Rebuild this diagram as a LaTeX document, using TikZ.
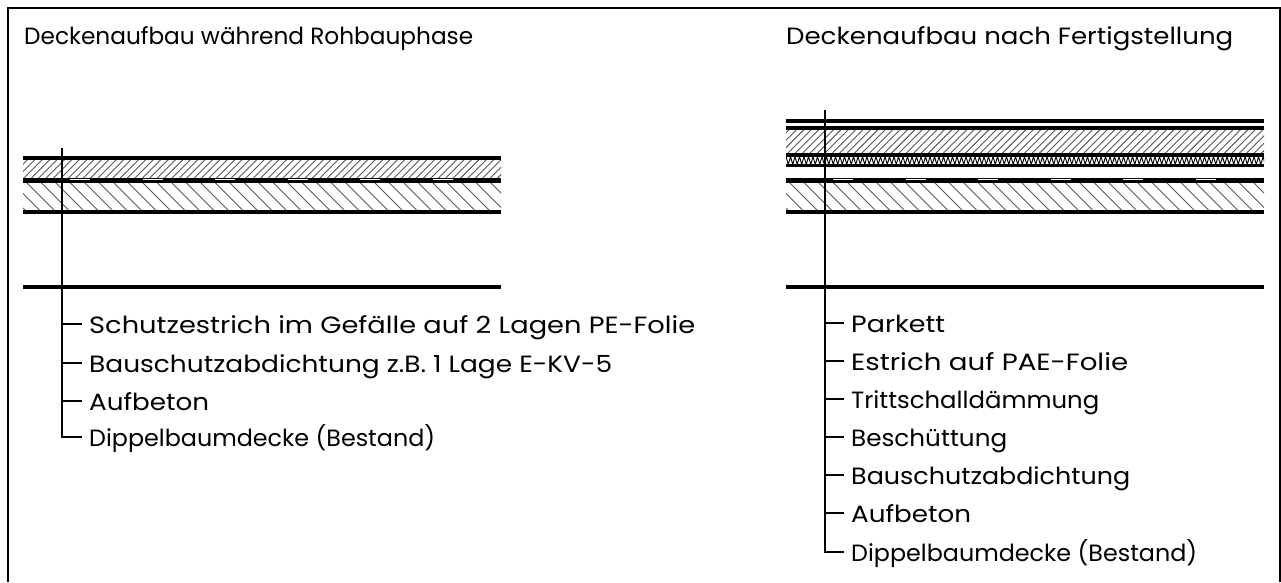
\documentclass[tikz,border=0pt]{standalone}
\usepackage{fontspec}
\setmainfont{Poppins}
\usepackage{graphicx}
\newcommand{\ft}[2]{\resizebox{#1pt}{1.12\height}{#2}}
\tikzset{x=1pt,y=-1pt,
 frameline/.style={line width=2pt,black},
 layer/.style={line width=3.2pt,black},
 layerthick/.style={line width=5pt,black},
 hatch/.style={line width=0.9pt,black!65},
 lead/.style={line width=2pt,black},
 lbl/.style={font=\fontsize{21}{21}\selectfont,anchor=west,inner xsep=7pt,inner ysep=0pt,text height=21pt,text depth=3pt,black},
 ttl/.style={font=\fontsize{21}{21}\selectfont,anchor=west,inner xsep=0pt,inner ysep=0pt,text height=21pt,text depth=3pt,black}}
\newcommand{\hatchup}[5]{% x1,x2,y1,y2,spacing
 \begin{scope}\clip (#1,#3) rectangle (#2,#4);
 \pgfmathsetmacro{\hh}{#4-#3}
 \foreach \k in {-5,...,100}{\pgfmathsetmacro{\xx}{#1+\k*#5}\draw[hatch] (\xx,#4) -- ++(\hh,-\hh);}
 \end{scope}}
\newcommand{\hatchdown}[5]{%
 \begin{scope}\clip (#1,#3) rectangle (#2,#4);
 \pgfmathsetmacro{\hh}{#4-#3}
 \foreach \k in {-5,...,50}{\pgfmathsetmacro{\xx}{#1+\k*#5}\draw[hatch] (\xx,#3) -- ++(\hh,\hh);}
 \end{scope}}
\begin{document}
\begin{tikzpicture}
\useasboundingbox (0,0) rectangle (1281,582);
\fill[white] (0,0) rectangle (1281,582);
\draw[frameline] (7.5,582) -- (7.5,7.5) -- (1280,7.5) -- (1280,582);
% titles
\node[ttl] (t1) at (24,35.5) {\ft{449}{Deckenaufbau während Rohbauphase}};
\node[ttl] (t2) at (786,35.5) {\ft{447}{Deckenaufbau nach Fertigstellung}};
% left layers
\hatchup{23}{501}{158}{179}{7.4}
\hatchdown{23}{501}{179}{212}{14.5}
\draw[layer] (23,158) -- (501,158);
\draw[layerthick] (23,180) -- (501,180);
\foreach \a in {70,142.5,215,287.5,360,432.5}{\draw[white,line width=1pt] (\a,179) -- ++(20,0);}
\draw[layer] (23,212) -- (501,212);
\draw[layer] (23,287) -- (501,287);
% right layers
\hatchup{786}{1264}{128}{155}{7.4}
\hatchdown{786}{1264}{179}{212}{14.5}
\begin{scope}\clip (786,155) rectangle (1264,165.5);
\draw[line width=0.9pt,black] (786,156.5) \foreach \k in {0,...,106}{ -- ++(2.25,8) -- ++(2.25,-8)};
\end{scope}
\draw[layer] (786,121) -- (1264,121);
\draw[layer] (786,128) -- (1264,128);
\draw[layer] (786,155) -- (1264,155);
\draw[layer] (786,165.5) -- (1264,165.5);
\draw[layerthick] (786,180) -- (1264,180);
\foreach \a in {833,905.5,978,1050.5,1123,1195.5}{\draw[white,line width=1pt] (\a,179) -- ++(20,0);}
\draw[layer] (786,212) -- (1264,212);
\draw[layer] (786,287) -- (1264,287);
% left labels
\node[lbl] (a1) at (82,324) {\ft{606}{Schutzestrich im Gefälle auf 2 Lagen PE-Folie}};
\node[lbl] (a2) at (82,363) {\ft{523}{Bauschutzabdichtung z.B. 1 Lage E-KV-5}};
\node[lbl] (a3) at (82,401) {\ft{120}{Aufbeton}};
\node[lbl] (a4) at (82,437) {\ft{346}{Dippelbaumdecke (Bestand)}};
\coordinate (atop) at (62,148);
\draw[lead] (atop) -- (atop|-a4.west) -- (a4.west);
\foreach \n in {a1,a2,a3}{\draw[lead] (atop|-\n.west) -- (\n.west);}
% right labels
\node[lbl] (b1) at (844,323) {\ft{94}{Parkett}};
\node[lbl] (b2) at (844,361) {\ft{277}{Estrich auf PAE-Folie}};
\node[lbl] (b3) at (844,399) {\ft{248}{Trittschalldämmung}};
\node[lbl] (b4) at (844,437) {\ft{156}{Beschüttung}};
\node[lbl] (b5) at (844,475) {\ft{279}{Bauschutzabdichtung}};
\node[lbl] (b6) at (844,513) {\ft{120}{Aufbeton}};
\node[lbl] (b7) at (844,552) {\ft{346}{Dippelbaumdecke (Bestand)}};
\coordinate (btop) at (825,110);
\draw[lead] (btop) -- (btop|-b7.west) -- (b7.west);
\foreach \n in {b1,b2,b3,b4,b5,b6}{\draw[lead] (btop|-\n.west) -- (\n.west);}
\end{tikzpicture}
\end{document}
